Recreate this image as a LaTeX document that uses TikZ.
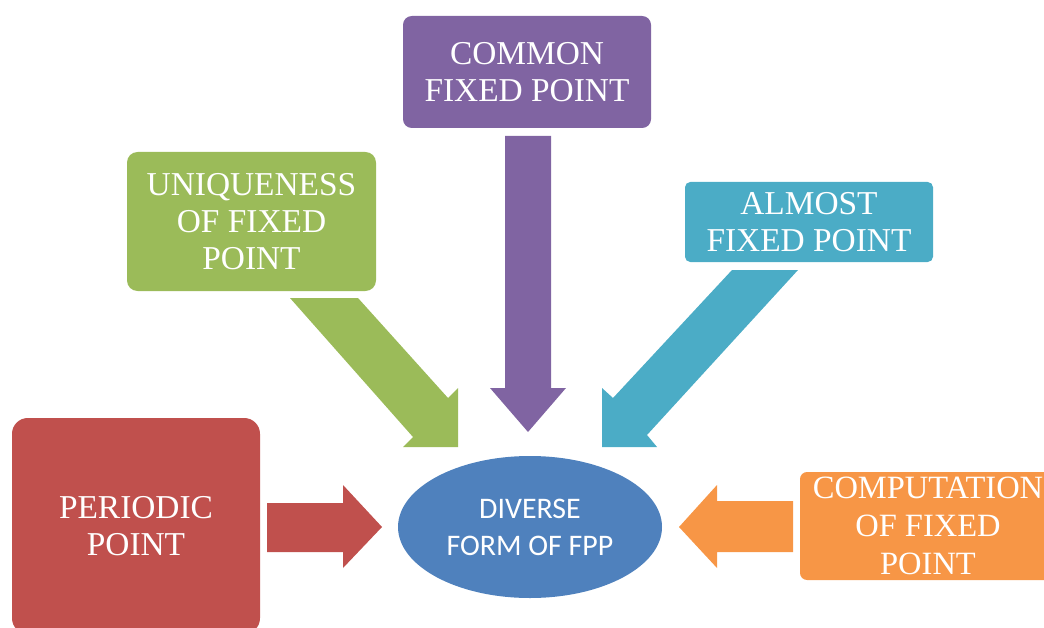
\documentclass[tikz,border=0pt]{standalone}
\usepackage{fontspec}
\setmainfont{Liberation Serif}
\newfontfamily\ellfont{Carlito}
\usetikzlibrary{shapes.geometric}
\definecolor{cred}{HTML}{C0504D}
\definecolor{cgreen}{HTML}{9BBB59}
\definecolor{cpurple}{HTML}{8064A2}
\definecolor{ccyan}{HTML}{4BACC6}
\definecolor{corange}{HTML}{F79646}
\definecolor{cblue}{HTML}{4F81BD}
\def\px{0.02cm}
\tikzset{
  box/.style={rectangle, draw=none, fill=#1, text=white, align=center, inner sep=0pt,
    font=\fontsize{19}{21}\selectfont},
  blockarrow/.style={fill=#1, draw=none},
}
\begin{document}
\begin{tikzpicture}[x=0.02cm, y=-0.02cm]
\useasboundingbox (0,0) rectangle (1044,628);
\clip (0,0) rectangle (1044,628);
% boxes
\node[box=cred, minimum width=248*\px, minimum height=216*\px, rounded corners=9pt] (periodic) at (136,526) {PERIODIC\\POINT};
\node[box=cgreen, minimum width=249*\px, minimum height=139*\px, rounded corners=6pt] (uniq) at (251.5,221.5) {UNIQUENESS\\OF FIXED\\POINT};
\node[box=cpurple, minimum width=248*\px, minimum height=112*\px, rounded corners=5pt] (common) at (527,72) {COMMON\\FIXED POINT};
\node[box=ccyan, minimum width=248*\px, minimum height=80*\px, rounded corners=3pt] (almost) at (809,222) {ALMOST\\FIXED POINT};
\node[box=corange, minimum width=256*\px, minimum height=108*\px, rounded corners=4pt, font=\fontsize{18.5}{21.5}\selectfont] (comp) at (928,526) {COMPUTATION\\OF FIXED\\POINT};
\node[ellipse, fill=cblue, text=white, align=center, inner sep=0pt, minimum width=264*\px, minimum height=142*\px, font=\ellfont\fontsize{17}{21}\selectfont] (fpp) at (530,527) {DIVERSE\\FORM OF FPP};
% block arrows
\fill[blockarrow=cred] (267,503) -- (343,503) -- (343,485) -- (382,527) -- (343,568) -- (343,552) -- (267,552) -- cycle;
\fill[blockarrow=corange] (793,501) -- (717,501) -- (717,485) -- (679,527) -- (717,568) -- (717,552) -- (793,552) -- cycle;
\fill[blockarrow=cpurple] (505,136) -- (505,388) -- (490,388) -- (528,432) -- (566,388) -- (551,388) -- (551,136) -- cycle;
\fill[blockarrow=cgreen] (290,298) -- (413,437) -- (403,447) -- (458,447) -- (458,388) -- (448,398) -- (358,298) -- cycle;
\fill[blockarrow=ccyan] (732,270) -- (613,398) -- (602,388) -- (602,447) -- (657,447) -- (647,435) -- (798,270) -- cycle;
\end{tikzpicture}
\end{document}
